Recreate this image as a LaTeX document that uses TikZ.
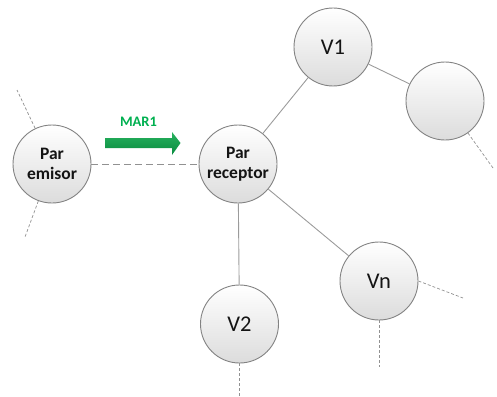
\documentclass[tikz,border=0pt]{standalone}
\usepackage{fontspec}
\setmainfont{Carlito}
\begin{document}
\begin{tikzpicture}[x=1pt,y=-1pt,
  peer/.style={circle, draw={rgb,255:red,130;green,130;blue,130}, line width=0.9pt,
    minimum size=78pt, inner sep=0pt, align=center,
    top color=white, bottom color={rgb,255:red,220;green,220;blue,220},
    text={rgb,255:red,20;green,20;blue,20}},
  pairlbl/.style={font=\fontsize{17.5}{20}\selectfont\bfseries},
  vlbl/.style={font=\fontsize{22.5}{26}\selectfont},
  link/.style={draw={rgb,255:red,155;green,155;blue,155}, line width=0.9pt},
  stub/.style={draw={rgb,255:red,145;green,145;blue,145}, line width=0.7pt, dash pattern=on 3pt off 2pt},
  longdash/.style={draw={rgb,255:red,145;green,145;blue,145}, line width=0.8pt, dash pattern=on 7pt off 4pt},
]
\useasboundingbox (0,0) rectangle (497,396);

% peers
\node[peer, pairlbl] (emisor) at (52,164) {Par\\emisor};
\node[peer, pairlbl] (receptor) at (238,164) {Par\\receptor};
\node[peer, vlbl] (v1) at (333,47) {V1};
\node[peer] (blank) at (445,101) {};
\node[peer, vlbl] (v2) at (239.5,324) {V2};
\node[peer, vlbl] (vn) at (379,281) {Vn};

% loose ends of the overlay
\coordinate (eu) at (17,90);
\coordinate (el) at (25,237);
\coordinate (br) at (493,168);
\coordinate (vnr) at (463,298);
\coordinate (vnd) at (379,367);
\coordinate (v2d) at (239.5,396);

% links
\path[longdash] (emisor) -- (receptor);
\path[link] (receptor) -- (v1);
\path[link] (receptor) -- (v2);
\path[link] (receptor) -- (vn);
\path[link] (v1) -- (blank);

\path[stub] (emisor) -- (eu);
\path[stub] (emisor) -- (el);
\path[stub] (blank) -- (br);
\path[stub] (vn.east) -- (vnr);
\path[stub] (vn.south) -- (vnd);
\path[stub] (v2.south) -- (v2d);

% MAR1 block arrow
\path[top color={rgb,255:red,40;green,178;blue,95}, bottom color={rgb,255:red,8;green,138;blue,62}]
  (105,138) -- (172,138) -- (172,132) -- (180.5,143) -- (172,155) -- (172,148) -- (105,148) -- cycle;
\node[font=\fontsize{14.5}{16}\selectfont\bfseries, text={rgb,255:red,0;green,176;blue,80}] (mar) at (138.5,122) {MAR1};
\end{tikzpicture}
\end{document}
